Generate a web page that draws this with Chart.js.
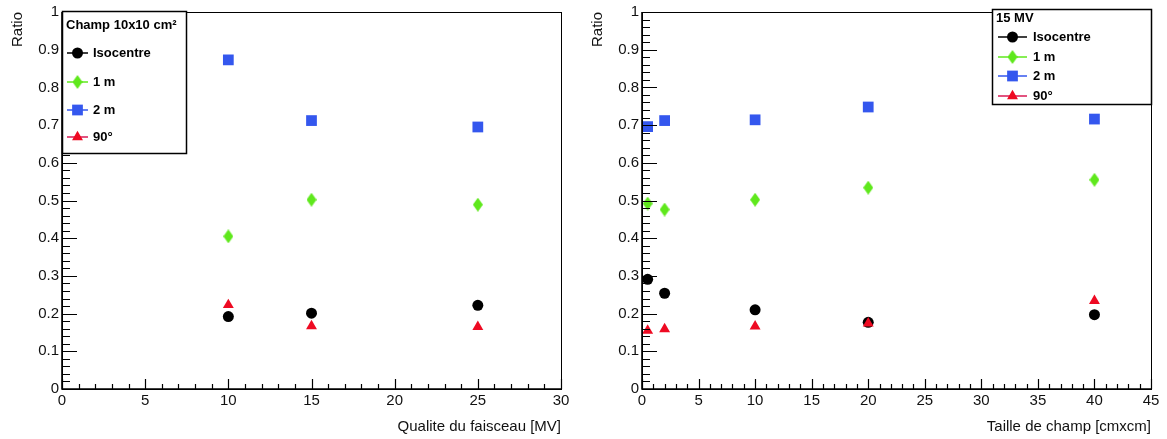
<!DOCTYPE html>
<html>
<head>
<meta charset="utf-8">
<script src="https://cdn.jsdelivr.net/npm/chart.js@4/dist/chart.umd.min.js"></script>
<style>
  body { margin: 0; background: #fff; }
  .panel { position: absolute; top: 0; height: 439px; }
  #leftPanel { left: 0; width: 580px; }
  #rightPanel { left: 580px; width: 587px; }
</style>
</head>
<body>
<div class="panel" id="leftPanel"><canvas id="energyChart"></canvas></div>
<div class="panel" id="rightPanel"><canvas id="fieldChart"></canvas></div>
<script>
// Left panel: ratio vs beam quality (field 10x10 cm2)
const beamEnergies = [10, 15, 25];
const isoEnergy = [0.192, 0.201, 0.222];
const oneMEnergy = [0.405, 0.502, 0.489];
const twoMEnergy = [0.873, 0.712, 0.695];
const deg90Energy = [0.223, 0.167, 0.165];

// Right panel: ratio vs field size (15 MV)
const fieldSizes = [0.5, 2, 10, 20, 40];
const isoField = [0.291, 0.254, 0.21, 0.177, 0.197];
const oneMField = [0.492, 0.476, 0.502, 0.534, 0.555];
const twoMField = [0.696, 0.712, 0.714, 0.748, 0.716];
const deg90Field = [0.155, 0.159, 0.166, 0.174, 0.234];

const seriesLabels = ['Isocentre', '1 m', '2 m', '90°'];
const energyTicks = { min: 0, max: 30 };
const fieldTicks = { min: 0, max: 45 };

const FONT = '"Liberation Sans", Arial, Helvetica, sans-serif';

// thin diamond marker (ROOT style)
function thinDiamond(color) {
    const c = document.createElement('canvas');
    c.width = 10; c.height = 14;
    const g = c.getContext('2d');
    g.fillStyle = color;
    g.beginPath();
    g.moveTo(5, 0); g.lineTo(10, 7); g.lineTo(5, 14); g.lineTo(0, 7);
    g.closePath();
    g.fill();
    return c;
}

const styles = [
    { color: '#000000', line: '#000000', pointStyle: 'circle', radius: 5.5 },
    { color: '#5fe81c', line: '#5fe81c', pointStyle: thinDiamond('#5fe81c'), radius: 7 },
    { color: '#3457ee', line: '#3457ee', pointStyle: 'rect', radius: 7.6 },
    { color: '#ee0a22', line: '#d81a55', pointStyle: 'triangle', radius: 6.3 }
];
const drawOrder = [3, 2, 1, 0];

function makeDatasets(xs, ys) {
    return ys.map((vals, i) => ({
        label: seriesLabels[i],
        data: xs.map((x, j) => ({ x: x, y: vals[j] })),
        pointStyle: styles[i].pointStyle,
        pointRadius: styles[i].radius,
        backgroundColor: styles[i].color,
        borderColor: styles[i].color,
        pointBorderWidth: 0,
        showLine: false,
        order: drawOrder[i]
    }));
}

// ROOT-like frame with inward ticks, plus legend box
const rootFrame = {
    id: 'rootFrame',
    afterDraw(chart) {
        const ctx = chart.ctx;
        const { left, right, top, bottom } = chart.chartArea;
        const xs = chart.scales.x, ys = chart.scales.y;
        ctx.save();
        ctx.strokeStyle = '#000';
        ctx.lineWidth = 1;
        ctx.strokeRect(left + 0.5, top + 0.5, right - left, bottom - top);
        ctx.lineWidth = 1.6;
        ctx.beginPath();
        ctx.moveTo(left, top); ctx.lineTo(left, bottom); ctx.lineTo(right, bottom);
        ctx.stroke();
        ctx.lineWidth = 1.2;
        ctx.beginPath();
        for (let v = xs.min; v <= xs.max + 1e-9; v += 1) {
            const px = Math.round(xs.getPixelForValue(v)) + 0.5;
            const len = (Math.round(v) % 5 === 0) ? 10 : 5;
            ctx.moveTo(px, bottom); ctx.lineTo(px, bottom - len);
        }
        for (let k = 0; k <= 50; k++) {
            const py = Math.round(ys.getPixelForValue(k / 50)) + 0.5;
            const len = (k % 5 === 0) ? 15 : 8;
            ctx.moveTo(left, py); ctx.lineTo(left + len, py);
        }
        ctx.stroke();

        const lg = chart.options.plugins.rootLegend;
        if (lg) {
            ctx.fillStyle = '#fff';
            ctx.fillRect(lg.box[0], lg.box[1], lg.box[2], lg.box[3]);
            ctx.strokeStyle = '#000';
            ctx.lineWidth = 1.5;
            ctx.strokeRect(lg.box[0] + 0.5, lg.box[1] + 0.5, lg.box[2], lg.box[3]);
            ctx.fillStyle = '#000';
            ctx.font = 'bold 13px ' + FONT;
            ctx.textBaseline = 'middle';
            ctx.textAlign = 'left';
            ctx.fillText(lg.title, lg.titleX, lg.titleY);
            seriesLabels.forEach((label, i) => {
                const y = lg.rows[i];
                ctx.strokeStyle = styles[i].line;
                ctx.lineWidth = 1.5;
                ctx.beginPath();
                ctx.moveTo(lg.lineX[0], y); ctx.lineTo(lg.lineX[1], y);
                ctx.stroke();
                ctx.fillStyle = styles[i].color;
                Chart.helpers.drawPoint(ctx, {
                    pointStyle: styles[i].pointStyle,
                    radius: styles[i].radius,
                    rotation: 0,
                    borderWidth: 0
                }, (lg.lineX[0] + lg.lineX[1]) / 2, y);
                ctx.fillStyle = '#000';
                ctx.fillText(label, lg.textX, y);
            });
        }
        ctx.restore();
    }
};

function makeChart(canvasId, xs, ys, range, xTitle, legend, padRight, padTop) {
    return new Chart(document.getElementById(canvasId), {
        type: 'scatter',
        data: { datasets: makeDatasets(xs, ys) },
        options: {
            responsive: true,
            maintainAspectRatio: false,
            animation: false,
            layout: { padding: { left: 0, right: padRight, top: padTop, bottom: 0 } },
            plugins: {
                legend: { display: false },
                tooltip: { enabled: false },
                rootLegend: legend
            },
            scales: {
                x: {
                    type: 'linear',
                    min: range.min,
                    max: range.max,
                    grid: { display: false, drawTicks: false },
                    border: { display: false },
                    ticks: {
                        stepSize: 5,
                        padding: 3,
                        color: '#111',
                        font: { family: FONT, size: 15 },
                        maxRotation: 0
                    },
                    title: {
                        display: true,
                        text: xTitle,
                        align: 'end',
                        color: '#111',
                        font: { family: FONT, size: 15 },
                        padding: { top: 0, bottom: 3 }
                    },
                    afterFit: s => { s.height = 50; }
                },
                y: {
                    type: 'linear',
                    min: 0,
                    max: 1,
                    grid: { display: false, drawTicks: false },
                    border: { display: false },
                    ticks: {
                        stepSize: 0.1,
                        padding: 3,
                        color: '#111',
                        font: { family: FONT, size: 15 },
                        callback: v => String(Number(v.toFixed(1)))
                    },
                    title: {
                        display: true,
                        text: 'Ratio',
                        align: 'end',
                        color: '#111',
                        font: { family: FONT, size: 15 },
                        padding: { top: 9, bottom: 0 }
                    },
                    afterFit: s => { s.width = 62; }
                }
            }
        },
        plugins: [rootFrame]
    });
}

makeChart('energyChart', beamEnergies,
    [isoEnergy, oneMEnergy, twoMEnergy, deg90Energy],
    energyTicks, 'Qualite du faisceau [MV]',
    { box: [62, 11, 124, 142], title: 'Champ 10x10 cm²', titleX: 66, titleY: 25,
      rows: [53, 82, 110, 137], lineX: [67, 88], textX: 93 }, 19, 11);

makeChart('fieldChart', fieldSizes,
    [isoField, oneMField, twoMField, deg90Field],
    fieldTicks, 'Taille de champ [cmxcm]',
    { box: [412, 9, 159, 95], title: '15 MV', titleX: 416, titleY: 18,
      rows: [37, 57, 76, 96], lineX: [418, 447], textX: 453 }, 16, 10);
</script>
</body>
</html>
